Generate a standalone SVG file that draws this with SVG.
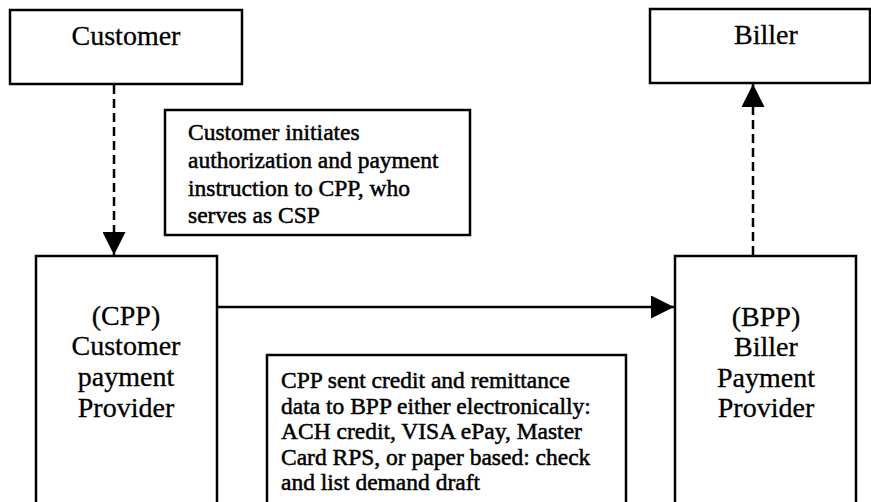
<svg xmlns="http://www.w3.org/2000/svg" width="871" height="502" viewBox="0 0 871 502">
<style>
.box{fill:#fff;stroke:#000;stroke-width:2.5}
.lbl{font-family:"Liberation Serif","Times New Roman",serif;font-size:28px;fill:#000;stroke:#000;stroke-width:0.3;text-anchor:middle}
.note{font-family:"Liberation Serif","Times New Roman",serif;font-size:23.5px;fill:#000;stroke:#000;stroke-width:0.5}
.conn{stroke:#000;stroke-width:2.5;fill:none}
.dash{stroke-dasharray:9 5}
</style>
<defs>
<marker id="ah" viewBox="0 0 10 10" refX="10" refY="5" markerUnits="userSpaceOnUse" markerWidth="23" markerHeight="23" orient="auto">
<path d="M0,0 L10,5 L0,10 Z" fill="#000"/>
</marker>
</defs>
<rect width="871" height="502" fill="#fff"/>
<g id="customer">
<rect class="box" x="10" y="10" width="232" height="74"/>
<text class="lbl" x="126" y="45">Customer</text>
</g>
<g id="biller">
<rect class="box" x="650" y="9" width="220" height="74"/>
<text class="lbl" x="766" y="44">Biller</text>
</g>
<g id="cpp">
<rect class="box" x="36" y="256" width="181" height="260"/>
<text class="lbl" x="126" y="325">(CPP)</text>
<text class="lbl" x="126" y="355">Customer</text>
<text class="lbl" x="126" y="386">payment</text>
<text class="lbl" x="126" y="417">Provider</text>
</g>
<g id="bpp">
<rect class="box" x="675" y="256" width="181" height="260"/>
<text class="lbl" x="766" y="326">(BPP)</text>
<text class="lbl" x="766" y="356">Biller</text>
<text class="lbl" x="766" y="387">Payment</text>
<text class="lbl" x="766" y="417">Provider</text>
</g>
<g id="note1">
<rect class="box" x="165" y="110" width="305" height="125"/>
<text class="note" x="188" y="140">Customer initiates</text>
<text class="note" x="188" y="168">authorization and payment</text>
<text class="note" x="188" y="196">instruction to CPP, who</text>
<text class="note" x="188" y="223">serves as CSP</text>
</g>
<g id="note2">
<rect class="box" x="267" y="355" width="359" height="160"/>
<text class="note" x="281" y="388">CPP sent credit and remittance</text>
<text class="note" x="281" y="413.5">data to BPP either electronically:</text>
<text class="note" x="281" y="439">ACH credit, VISA ePay, Master</text>
<text class="note" x="281" y="464.5">Card RPS, or paper based: check</text>
<text class="note" x="281" y="490">and list demand draft</text>
</g>
<g id="connectors">
<line class="conn dash" x1="114" y1="85" x2="114" y2="255" marker-end="url(#ah)"/>
<line class="conn dash" x1="753" y1="255" x2="753" y2="84" marker-end="url(#ah)"/>
<line class="conn" x1="217" y1="307" x2="674" y2="307" marker-end="url(#ah)"/>
</g>
</svg>
